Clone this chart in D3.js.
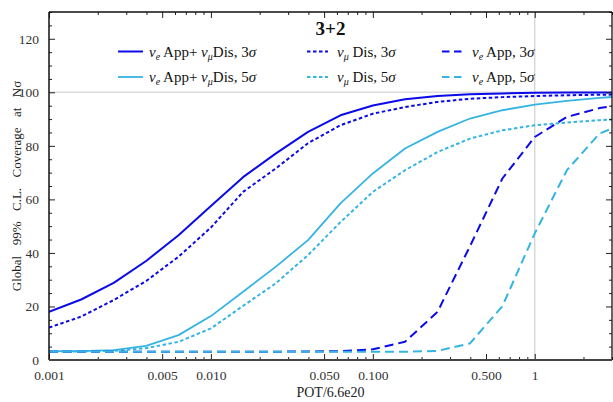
<!DOCTYPE html>
<html><head><meta charset="utf-8">
<script src="https://cdn.jsdelivr.net/npm/d3@7"></script>
<style>
body{margin:0;background:#fff}
text{font-family:"Liberation Serif","DejaVu Serif",serif}
</style>
</head><body>
<svg id="c" width="613" height="402"></svg>
<script>
// ---- data ----
const pot = [0.001, 0.00158, 0.00251, 0.00398, 0.00631, 0.01, 0.0158, 0.0251, 0.0398, 0.0631,
             0.1, 0.158, 0.251, 0.398, 0.631, 1, 1.58, 2.51, 3.98];
const appDis3 = [18, 22.6, 28.8, 37, 46.6, 57.5, 68.3, 77.1, 85.2, 91.4, 95.1, 97.4, 98.6, 99.3, 99.6, 99.8, 99.9, 99.9, 100];
const dis3    = [12.1, 16.2, 22.4, 29.5, 38.6, 49.5, 62.8, 71.5, 81, 87.7, 92.0, 94.5, 96.4, 97.6, 98.2, 98.6, 98.9, 99.1, 99.2];
const app3    = [3.1, 3.1, 3.1, 3.1, 3.1, 3.1, 3.1, 3.1, 3.2, 3.3, 4.0, 6.8, 18.0, 42.5, 67.8, 83.3, 90.8, 94.1, 96];
const appDis5 = [3.3, 3.3, 3.7, 5.3, 9.3, 16.4, 25.5, 34.8, 44.8, 58.5, 69.7, 79.0, 85.2, 90.2, 93.3, 95.4, 96.8, 97.9, 98.8];
const dis5    = [3.1, 3.2, 3.4, 4.4, 6.8, 11.8, 20.2, 28.6, 39.2, 51.5, 62.8, 70.9, 77.7, 82.7, 85.8, 87.7, 88.7, 89.6, 90.2];
const app5    = [3.1, 3.1, 3.1, 3.1, 3.1, 3.1, 3.1, 3.1, 3.1, 3.1, 3.1, 3.1, 3.4, 6.2, 20.1, 47.3, 70.9, 84.6, 89.4];

const xTickVals = [0.001, 0.005, 0.01, 0.05, 0.1, 0.5, 1];
const xTickLabels = ["0.001", "0.005", "0.010", "0.050", "0.100", "0.500", "1"];
const yTickVals = [0, 20, 40, 60, 80, 100, 120];
const title = "3+2";
const xTitle = "POT/6.6e20";
const yTitle = "Global  99%  C.L.  Coverage  at  N\u03c3";

const BLUE = "#0a0aea", LIGHT = "#35b4e3";
const series = [
  {name: "appDis3", values: appDis3, color: BLUE,  dash: null,  w: 2.0,
   label: [["\u03bd","i"],["e","sub"],[" App+ ",""],["\u03bd","i"],["\u03bc","sub"],["Dis, 3",""],["\u03c3","i"]]},
  {name: "appDis5", values: appDis5, color: LIGHT, dash: null,  w: 1.8,
   label: [["\u03bd","i"],["e","sub"],[" App+ ",""],["\u03bd","i"],["\u03bc","sub"],["Dis, 5",""],["\u03c3","i"]]},
  {name: "dis3", values: dis3, color: BLUE,  dash: "3.5,2.5", w: 2.0,
   label: [["\u03bd","i"],["\u03bc","sub"],[" Dis, 3",""],["\u03c3","i"]]},
  {name: "dis5", values: dis5, color: LIGHT, dash: "3.5,2.5", w: 2.0,
   label: [["\u03bd","i"],["\u03bc","sub"],[" Dis, 5",""],["\u03c3","i"]]},
  {name: "app3", values: app3, color: BLUE,  dash: "9,5", w: 2.0,
   label: [["\u03bd","i"],["e","sub"],[" App, 3",""],["\u03c3","i"]]},
  {name: "app5", values: app5, color: LIGHT, dash: "9,5", w: 2.0,
   label: [["\u03bd","i"],["e","sub"],[" App, 5",""],["\u03c3","i"]]}
];

// ---- layout ----
const L = 49, R = 612, T = 12, B = 360;
const svg = d3.select("#c");
const x = d3.scaleLog().domain([0.001, 3]).range([L, R]);
const y = d3.scaleLinear().domain([0, 130]).range([B, T]);

svg.append("defs").append("clipPath").attr("id","clip")
  .append("rect").attr("x", L).attr("y", T).attr("width", R - L).attr("height", B - T);

// grid lines
svg.append("line").attr("x1", L).attr("x2", R).attr("y1", y(100)).attr("y2", y(100))
  .attr("stroke", "#dcdcdc").attr("stroke-width", 1.6);
svg.append("line").attr("x1", x(1)).attr("x2", x(1)).attr("y1", T).attr("y2", B)
  .attr("stroke", "#cfcfcf").attr("stroke-width", 1.2);

// curves
const line = d3.line().x((d, i) => x(pot[i])).y(d => y(d));
const g = svg.append("g").attr("clip-path", "url(#clip)");
series.forEach(s => {
  g.append("path").datum(s.values).attr("d", line).attr("fill", "none")
    .attr("stroke", s.color).attr("stroke-width", s.w)
    .attr("stroke-dasharray", s.dash).attr("stroke-linejoin", "round");
});

// minor ticks
const xMinor = [];
for (let e = -3; e <= 0; e++) for (let m = 2; m <= 9; m++) {
  const v = m * Math.pow(10, e);
  if (v <= 3 && !xTickVals.some(t => Math.abs(t - v) / v < 1e-6)) xMinor.push(v);
}
const yMinor = d3.range(0, 131, 5).filter(v => v % 20 !== 0);

function styleAxis(sel) {
  sel.select(".domain").remove();
  sel.selectAll(".tick line").attr("stroke", "#222").attr("stroke-width", 1);
  sel.selectAll(".tick text").attr("fill", "#333").style("font-size", "13.5px")
    .style("font-family", '"Liberation Serif","DejaVu Serif",serif');
}
// bottom
svg.append("g").attr("transform", `translate(0,${B})`)
  .call(d3.axisBottom(x).tickValues(xTickVals).tickSizeInner(-6).tickSizeOuter(0).tickPadding(10)
    .tickFormat((d, i) => xTickLabels[i])).call(styleAxis);
svg.append("g").attr("transform", `translate(0,${B})`)
  .call(d3.axisBottom(x).tickValues(xMinor).tickSizeInner(-3).tickSizeOuter(0).tickFormat("")).call(styleAxis);
// top
svg.append("g").attr("transform", `translate(0,${T})`)
  .call(d3.axisTop(x).tickValues(xTickVals).tickSizeInner(-6).tickSizeOuter(0).tickFormat("")).call(styleAxis);
svg.append("g").attr("transform", `translate(0,${T})`)
  .call(d3.axisTop(x).tickValues(xMinor).tickSizeInner(-3).tickSizeOuter(0).tickFormat("")).call(styleAxis);
// left
svg.append("g").attr("transform", `translate(${L},0)`)
  .call(d3.axisLeft(y).tickValues(yTickVals).tickSizeInner(-6).tickSizeOuter(0).tickPadding(10)).call(styleAxis);
svg.append("g").attr("transform", `translate(${L},0)`)
  .call(d3.axisLeft(y).tickValues(yMinor).tickSizeInner(-3).tickSizeOuter(0).tickFormat("")).call(styleAxis);
// right
svg.append("g").attr("transform", `translate(${R},0)`)
  .call(d3.axisRight(y).tickValues(yTickVals).tickSizeInner(-6).tickSizeOuter(0).tickFormat("")).call(styleAxis);
svg.append("g").attr("transform", `translate(${R},0)`)
  .call(d3.axisRight(y).tickValues(yMinor).tickSizeInner(-3).tickSizeOuter(0).tickFormat("")).call(styleAxis);

// frame
svg.append("line").attr("x1", L).attr("x2", R).attr("y1", T).attr("y2", T).attr("stroke", "#111").attr("stroke-width", 1.3);
svg.append("line").attr("x1", L).attr("x2", L).attr("y1", T).attr("y2", B).attr("stroke", "#111").attr("stroke-width", 1.5);
svg.append("line").attr("x1", R).attr("x2", R).attr("y1", T).attr("y2", B).attr("stroke", "#111").attr("stroke-width", 1.3);
svg.append("line").attr("x1", L).attr("x2", R).attr("y1", B).attr("y2", B).attr("stroke", "#444").attr("stroke-width", 2);

// titles
svg.append("text").attr("x", (L + R) / 2).attr("y", 35).attr("text-anchor", "middle")
  .style("font-size", "19px").style("font-weight", "bold").attr("fill", "#111").text(title);
svg.append("text").attr("x", (L + R) / 2).attr("y", 397).attr("text-anchor", "middle")
  .style("font-size", "14px").attr("fill", "#222").text(xTitle);
svg.append("text").attr("transform", `translate(21,${(T + B) / 2}) rotate(-90)`).attr("text-anchor", "middle")
  .style("font-size", "13px").style("word-spacing", "2px").style("white-space", "pre").attr("fill", "#222").text(yTitle);

// legend
const colX = [118, 307, 442];
const rowY = [51.5, 77];
series.forEach((s, i) => {
  const cx = colX[Math.floor(i / 2)], cy = rowY[i % 2];
  const lw = i < 2 ? 25 : 21;
  svg.append("line").attr("x1", cx).attr("x2", cx + lw).attr("y1", cy).attr("y2", cy)
    .attr("stroke", s.color).attr("stroke-width", s.w).attr("stroke-dasharray", i >= 4 ? "7.5,4.5" : s.dash);
  const t = svg.append("text").attr("x", cx + lw + (i < 2 ? 6 : 9)).attr("y", cy + 5)
    .style("font-size", "15px").attr("fill", "#111").style("white-space", "pre");
  s.label.forEach(([str, kind], k) => {
    const sp = t.append("tspan").text(str);
    const prev = k > 0 ? s.label[k - 1][1] : "";
    if (kind === "i") sp.style("font-style", "italic");
    if (kind === "sub") sp.style("font-size", "10px").style("font-style", "italic").attr("dy", 3);
    else if (prev === "sub") sp.attr("dy", -3);
  });
});
</script>
</body></html>
